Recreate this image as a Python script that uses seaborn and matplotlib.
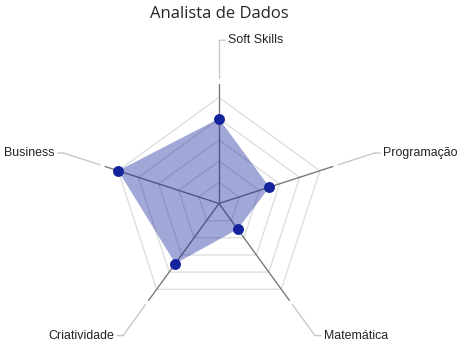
import numpy as np
import matplotlib
matplotlib.use("Agg")
import matplotlib.pyplot as plt
import seaborn as sns

title = "Analista de Dados"
categories = ["Soft Skills", "Programação", "Matemática", "Criatividade", "Business"]
values = [80, 50, 30, 70, 100]
grid_levels = [20, 40, 60, 80, 100]
r_max = 100

sns.set_style("white")
plt.rcParams["font.family"] = ["Liberation Sans", "DejaVu Sans"]

W, H = 466, 347
fig = plt.figure(figsize=(W / 100, H / 100), dpi=100)
cx, cy, R = 219, 203.5, 106
ax = fig.add_axes([(cx - R) / W, (H - cy - R) / H, 2 * R / W, 2 * R / H], projection="polar")
ax.set_theta_offset(np.pi / 2)
ax.set_theta_direction(-1)
ax.set_rlim(0, r_max)
ax.set_axis_off()

n = len(categories)
theta = np.array([2 * np.pi * i / n for i in range(n)])
theta_c = np.append(theta, theta[0])

main_col = "#14239b"

# grid pentagons
for lv in grid_levels:
    sns.lineplot(x=theta_c, y=[lv] * (n + 1), sort=False, ax=ax, color="#dcdcdc",
                 lw=0.9, zorder=1, estimator=None)

# axis lines and leaders
for t, lab in zip(theta, categories):
    ax.plot([t, t], [0, r_max * 1.13], color="#7a7a7a", lw=1.0, zorder=2, clip_on=False)
    ax.plot([t, t], [r_max * 1.18, r_max * 1.54], color="#c8c8c8", lw=1.0, zorder=2, clip_on=False)
    right = np.sin(t) >= -1e-9 if abs(np.sin(t)) > 1e-6 else True
    sgn = 1 if right else -1
    ax.annotate("", xy=(t, r_max * 1.54), xytext=(sgn * 6, 0), textcoords="offset pixels",
                arrowprops=dict(arrowstyle="-", color="#c8c8c8", lw=1.0, shrinkA=0, shrinkB=0),
                annotation_clip=False)
    ax.annotate(lab, xy=(t, r_max * 1.54), xytext=(sgn * 9, 0), textcoords="offset pixels",
                ha="left" if right else "right", va="center", fontsize=8.9, color="#222222",
                annotation_clip=False)

# data polygon
vals_c = np.append(values, values[0])
ax.fill(theta_c, vals_c, color=main_col, alpha=0.4, lw=0, zorder=3)
sns.scatterplot(x=theta, y=values, ax=ax, s=62, color=main_col, edgecolor=main_col,
                linewidth=0, zorder=4, clip_on=False, legend=False)

fig.text(219.5 / W, 1 - 14 / H, title, ha="center", va="center", fontsize=12,
         color="#252525", family=["Open Sans", "DejaVu Sans"])

fig.savefig("out.png", dpi=100)
